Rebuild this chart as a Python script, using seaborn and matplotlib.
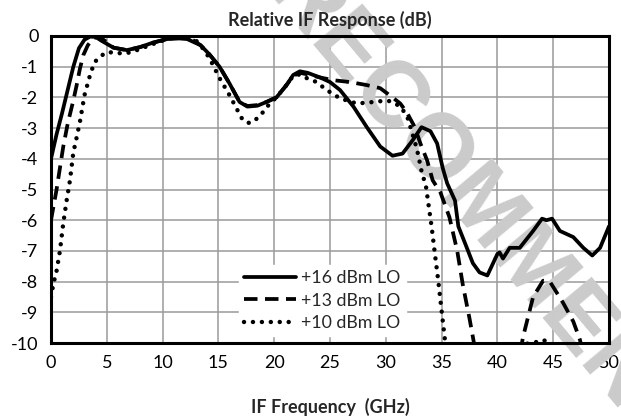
import matplotlib
matplotlib.use("Agg")
import matplotlib.pyplot as plt
import seaborn as sns
import numpy as np
import pandas as pd

# ---- data ----
f16 = [0, 0.5, 1, 1.5, 2, 2.5, 3, 3.5, 4.0, 4.5, 5.6, 6.8, 8, 9.1, 10.4, 11.5, 12.2, 13.4, 14.2,
       15.1, 16, 16.9, 17.6, 18.5, 19.3, 20.2, 21.1, 21.7, 22.3, 23.0, 24.1, 25.0, 25.9, 27.1,
       28.3, 29.5, 30.6, 31.5, 32.4, 33.2, 34.0, 34.6, 35.1, 35.5, 36.2, 36.5, 37.1, 37.8,
       38.4, 39.1, 40.0, 40.2, 40.5, 41.1, 42.0, 43.2, 44.0, 44.4, 44.9, 45.6, 46.8, 47.7,
       48.5, 49.2, 50]
db16 = [-4.0, -3.2, -2.5, -1.75, -1.0, -0.4, -0.12, -0.02, -0.03, -0.15, -0.38, -0.46, -0.36,
        -0.22, -0.1, -0.08, -0.1, -0.3, -0.6, -1.0, -1.55, -2.15, -2.3, -2.27, -2.15, -2.0,
        -1.6, -1.27, -1.15, -1.2, -1.35, -1.5, -1.76, -2.3, -2.97, -3.6, -3.9, -3.83, -3.4,
        -2.97, -3.1, -3.5, -4.3, -4.8, -5.36, -6.2, -6.75, -7.4, -7.7, -7.8, -7.1, -7.05,
        -7.25, -6.9, -6.9, -6.35, -5.95, -6.0, -5.95, -6.35, -6.55, -6.9, -7.15, -6.9, -6.2]

f13 = [0, 0.2, 0.5, 0.8, 1.1, 1.5, 2.0, 2.3, 2.6, 2.9, 3.3, 3.8, 4.3, 5.0, 5.6, 6.8, 8, 9.1,
       10.4, 11.5, 12.5, 13.4, 14.2, 15.1, 16, 16.9, 17.6, 18.5, 19.3, 20.2, 21.1, 21.7, 22.3,
       23.0, 24.1, 25.3, 26.8, 28.3, 29.5, 30.6, 31.3, 31.9, 32.6, 33.1, 33.7, 34.2, 34.9,
       35.7, 36.4, 36.9, 37.5, 37.9, 38.3, 39.0, 41.0, 41.8, 42.3, 43.2, 44.1, 44.7, 45.9,
       46.8, 47.4, 47.8, 48.5, 50]
db13 = [-6.0, -5.6, -5.0, -4.3, -3.6, -2.85, -2.1, -1.6, -1.05, -0.62, -0.3, -0.07, -0.02,
        -0.2, -0.38, -0.46, -0.36, -0.22, -0.1, -0.05, -0.08, -0.3, -0.6, -1.0, -1.55, -2.15,
        -2.28, -2.25, -2.15, -2.0, -1.6, -1.3, -1.2, -1.25, -1.35, -1.44, -1.5, -1.6, -1.7,
        -2.0, -2.2, -2.5, -2.97, -3.5, -4.05, -4.7, -5.1, -5.9, -7.0, -8.1, -9.2, -10.0,
        -10.8, -12.0, -12.0, -10.8, -9.8, -8.5, -7.97, -8.0, -8.7, -9.3, -9.9, -10.6, -12.0,
        -12.0]

f10 = [0, 0.2, 0.5, 0.8, 1.1, 1.4, 1.7, 2.0, 2.3, 2.6, 3.0, 3.5, 3.9, 4.6, 5.1, 5.9, 6.8, 7.7,
       9, 10, 11, 12, 13, 13.6, 14.2, 15.1, 16.0, 16.8, 17.2, 17.8, 18.5, 19, 19.6, 20.2,
       21.1, 21.7, 22.3, 22.9, 23.8, 24.7, 25.9, 27.4, 28.9, 30.1, 30.6, 31.3, 31.9, 32.4,
       32.8, 33.2, 33.6, 34.1, 34.4, 34.7, 35.0, 35.3, 35.6, 36.5, 41.0, 42.0, 43.0, 44.1,
       44.8, 45.3, 46.0, 50]
db10 = [-8.5, -8.1, -7.65, -7.0, -6.1, -5.36, -4.7, -3.8, -3.3, -2.78, -1.93, -1.27, -0.85,
        -0.62, -0.52, -0.56, -0.56, -0.46, -0.28, -0.15, -0.05, -0.03, -0.15, -0.4, -0.72,
        -1.37, -1.93, -2.48, -2.75, -2.84, -2.68, -2.48, -2.2, -2.0, -1.6, -1.3, -1.25, -1.37,
        -1.5, -1.76, -2.03, -2.2, -2.15, -2.1, -2.15, -2.3, -2.6, -3.2, -3.7, -4.4, -4.9,
        -6.2, -7.1, -7.97, -8.95, -9.9, -11.0, -12.0, -12.0, -10.02, -10.02, -9.9, -10.02,
        -11.0, -12.0, -12.0]

series_labels = ["+16 dBm LO", "+13 dBm LO", "+10 dBm LO"]
x_ticks = [0, 5, 10, 15, 20, 25, 30, 35, 40, 45, 50]
y_ticks = [0, -1, -2, -3, -4, -5, -6, -7, -8, -9, -10]
title = "Relative IF Response (dB)"
xlabel = "IF Frequency  (GHz)"
watermark = "RECOMMENDED"

# ---- plotting ----
sns.set_style("white")
plt.rcParams["font.family"] = ["Lato", "DejaVu Sans"]

fig = plt.figure(figsize=(6.21, 4.2), dpi=100)
ax = fig.add_axes([51 / 621, 1 - 343 / 420, 558 / 621, 307 / 420])

styles = [
    dict(linestyle="-", linewidth=2.7),
    dict(linestyle=(0, (3.6, 2.0)), linewidth=2.7),
    dict(linestyle=(0, (0.01, 2.0)), linewidth=3.2, dash_capstyle="round"),
]
for fx, dy, lab, st in zip([f16, f13, f10], [db16, db13, db10], series_labels, styles):
    df = pd.DataFrame({"f": fx, "db": dy})
    sns.lineplot(data=df, x="f", y="db", ax=ax, color="black", label=lab,
                 sort=False, zorder=3, **st)

ax.set_xlim(0, 50)
ax.set_ylim(-10, 0)
ax.set_xticks(x_ticks)
ax.set_yticks(y_ticks)
ax.set_xticklabels([str(t) for t in x_ticks])
ax.set_yticklabels([str(t) for t in y_ticks])
ax.tick_params(axis="both", length=0, labelsize=13, pad=9, colors="black")
ax.grid(True, color="#9a9a9a", linewidth=1.1, zorder=0)
ax.set_axisbelow(True)
for s in ax.spines.values():
    s.set_visible(True)
    s.set_color("black")
    s.set_linewidth(2.2)
    s.set_zorder(4)

ax.set_title(title, fontsize=13, fontweight="bold", pad=7)
ax.set_xlabel(xlabel, fontsize=13, fontweight="bold", labelpad=19)
ax.set_ylabel("")

leg = ax.legend(loc="lower left", bbox_to_anchor=(0.337, 0.022), frameon=True,
                fontsize=12.8, handlelength=2.9, handletextpad=0.3, labelspacing=0.35,
                borderpad=0.3, borderaxespad=0)
leg.get_frame().set_facecolor("white")
leg.get_frame().set_edgecolor("white")
leg.get_frame().set_alpha(1.0)
leg.set_zorder(5)

ax.text(264 / 621, 1 + 7 / 420, watermark, transform=fig.transFigure,
        rotation=-50, rotation_mode="anchor", ha="left", va="baseline",
        fontsize=67, fontweight="bold", color="#cbcbcb", zorder=1.5, clip_on=False,
        family=["Liberation Sans"])

fig.savefig("out.png", dpi=100)
